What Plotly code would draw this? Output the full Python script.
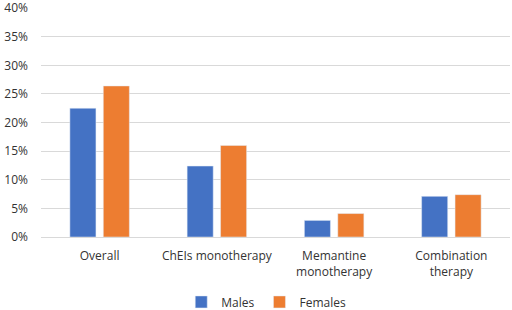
import plotly.graph_objects as go

categories = ["Overall", "ChEIs monotherapy", "Memantine<br>monotherapy", "Combination<br>therapy"]
males = [22.5, 12.4, 2.9, 7.1]
females = [26.4, 16.0, 4.1, 7.4]
y_ticks = [0, 5, 10, 15, 20, 25, 30, 35, 40]
y_tick_labels = [f"{v}%" for v in y_ticks]

font = "Open Sans, Liberation Sans, sans-serif"
fig = go.Figure()
fig.add_trace(go.Bar(name="Males", x=categories, y=males, marker_color="#4472C4"))
fig.add_trace(go.Bar(name="Females", x=categories, y=females, marker_color="#ED7D31"))

fig.update_layout(
    width=512, height=310,
    margin=dict(l=41, r=2, t=8, b=73, autoexpand=False),
    paper_bgcolor="white", plot_bgcolor="white",
    barmode="group", bargap=0.43, bargroupgap=0.22,
    font=dict(family=font, size=12, color="#333333"),
    showlegend=True,
    legend=dict(orientation="h", x=0.52, xanchor="center", xref="container",
                y=0.026, yanchor="middle", yref="container",
                font=dict(size=12, color="#333333"), itemwidth=30, tracegroupgap=0),
    xaxis=dict(showgrid=False, showline=False, ticks="", tickfont=dict(size=12),
               automargin=False, ticklabelstandoff=10),
    yaxis=dict(range=[0, 40.02], tickvals=y_ticks, ticktext=y_tick_labels,
               showgrid=True, gridcolor="#D9D9D9", gridwidth=1,
               zeroline=True, zerolinecolor="#D9D9D9", zerolinewidth=1,
               showline=False, ticks="", tickfont=dict(size=12), ticklabelstandoff=12,
               automargin=False, ticklabeloverflow="allow"),
)
fig.write_html("out.html", config={"displayModeBar": False},
               post_script="document.body.style.margin='0';")
